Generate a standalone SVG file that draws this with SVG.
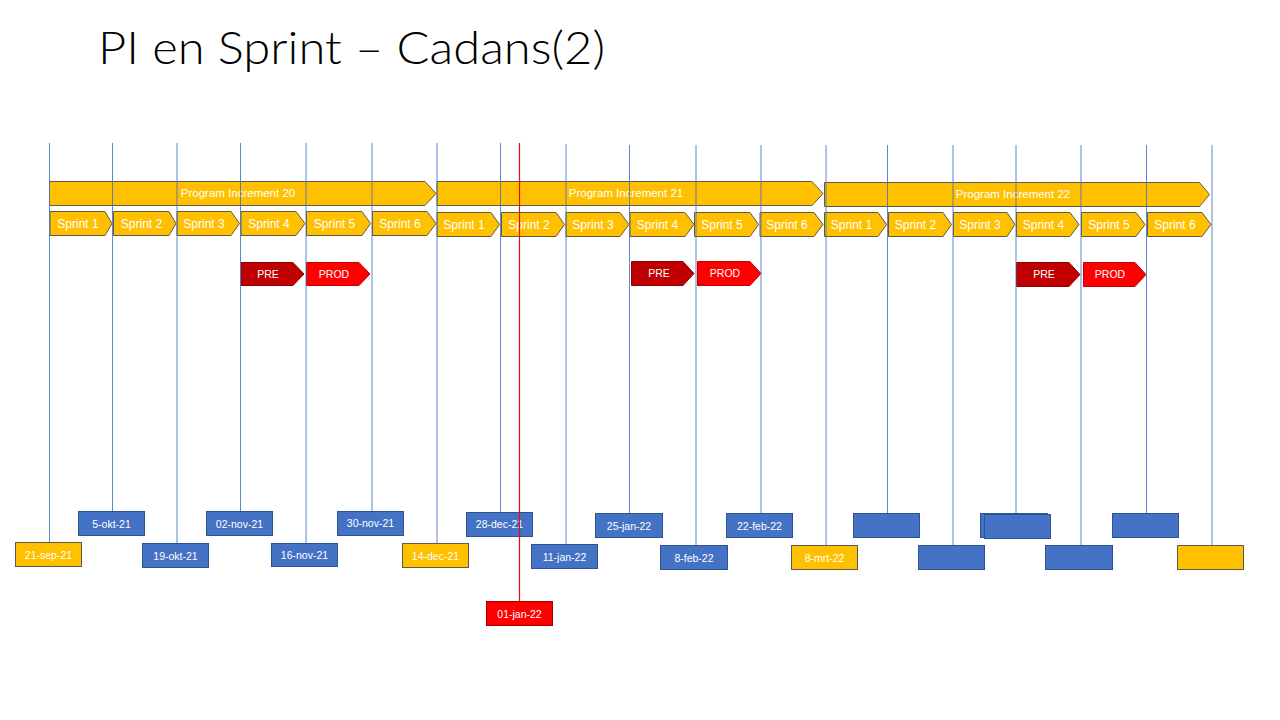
<svg xmlns="http://www.w3.org/2000/svg" width="1280" height="720" viewBox="0 0 1280 720">
<style>
  .title{font-family:"Lato","Liberation Sans",sans-serif;font-weight:300;font-size:46px;fill:#000}
  .lbl{font-family:"Liberation Sans",Arial,sans-serif;font-size:12px;fill:#fff;text-anchor:middle;dominant-baseline:central}
  .pil{font-family:"Liberation Sans",Arial,sans-serif;font-size:11.5px;fill:#fff;text-anchor:middle;dominant-baseline:central}
  .dl{font-family:"Liberation Sans",Arial,sans-serif;font-size:10.5px;fill:#fff;text-anchor:middle;dominant-baseline:central}
  .y{fill:#FFC000;stroke:#5f5a4a;stroke-width:1}
  .b{fill:#4472C4;stroke:#2F528F;stroke-width:1}
  .pre{fill:#C00000;stroke:#8B0000;stroke-width:1}
  .prod{fill:#FF0000;stroke:#C00000;stroke-width:1}
  .r{fill:#FF0000;stroke:#A00000;stroke-width:1}
  .vl{stroke:#4472C4;stroke-width:1;stroke-opacity:0.85;fill:none}
  .red{stroke:#E01010;stroke-width:1.2;fill:none}
</style>
<rect width="1280" height="720" fill="#fff"/>
<text class="title" x="98" y="64" textLength="507" lengthAdjust="spacingAndGlyphs">PI en Sprint – Cadans(2)</text>

<g id="pi20">
  <polygon class="y" points="49.5,181.5 425,181.5 436,193.5 425,205.5 49.5,205.5"/>
  <text class="pil" x="238" y="193">Program Increment  20</text>
</g>
<g id="pi21">
  <polygon class="y" points="437,181.5 812,181.5 823,193.5 812,205.5 437,205.5"/>
  <text class="pil" x="626" y="193">Program Increment  21</text>
</g>
<g id="pi22">
  <polygon class="y" points="824.5,182.5 1199.5,182.5 1209.5,194.5 1199.5,206.5 824.5,206.5"/>
  <text class="pil" x="1013" y="194">Program Increment  22</text>
</g>

<g id="pi20-s1"><polygon class="y" points="50,211.5 105,211.5 112,223.5 105,235.5 50,235.5"/><text class="lbl" x="78" y="223.5">Sprint 1</text></g>
<g id="pi20-s2"><polygon class="y" points="113.5,211.5 169,211.5 176,223.5 169,235.5 113.5,235.5"/><text class="lbl" x="141.5" y="223.5">Sprint 2</text></g>
<g id="pi20-s3"><polygon class="y" points="177,211.5 231,211.5 239.5,223.5 231,235.5 177,235.5"/><text class="lbl" x="204" y="223.5">Sprint 3</text></g>
<g id="pi20-s4"><polygon class="y" points="241,211.5 296,211.5 305,223.5 296,235.5 241,235.5"/><text class="lbl" x="269" y="223.5">Sprint 4</text></g>
<g id="pi20-s5"><polygon class="y" points="306.5,211.5 362,211.5 370.5,223.5 362,235.5 306.5,235.5"/><text class="lbl" x="334.5" y="223.5">Sprint 5</text></g>
<g id="pi20-s6"><polygon class="y" points="372.5,211.5 427,211.5 436,223.5 427,235.5 372.5,235.5"/><text class="lbl" x="400" y="223.5">Sprint 6</text></g>

<g id="pi21-s1"><polygon class="y" points="437,212.5 491,212.5 499.5,224.5 491,236.5 437,236.5"/><text class="lbl" x="464" y="224.5">Sprint 1</text></g>
<g id="pi21-s2"><polygon class="y" points="501.5,212.5 556,212.5 564.5,224.5 556,236.5 501.5,236.5"/><text class="lbl" x="529" y="224.5">Sprint 2</text></g>
<g id="pi21-s3"><polygon class="y" points="566,212.5 620,212.5 629,224.5 620,236.5 566,236.5"/><text class="lbl" x="593" y="224.5">Sprint 3</text></g>
<g id="pi21-s4"><polygon class="y" points="630,212.5 685,212.5 694,224.5 685,236.5 630,236.5"/><text class="lbl" x="657.5" y="224.5">Sprint 4</text></g>
<g id="pi21-s5"><polygon class="y" points="694.5,212.5 750,212.5 758.5,224.5 750,236.5 694.5,236.5"/><text class="lbl" x="722" y="224.5">Sprint 5</text></g>
<g id="pi21-s6"><polygon class="y" points="760,212.5 814,212.5 823,224.5 814,236.5 760,236.5"/><text class="lbl" x="787" y="224.5">Sprint 6</text></g>

<g id="pi22-s1"><polygon class="y" points="824.5,212.5 878,212.5 886.5,224.5 878,236.5 824.5,236.5"/><text class="lbl" x="851.5" y="224.5">Sprint 1</text></g>
<g id="pi22-s2"><polygon class="y" points="888.5,212.5 943,212.5 951.5,224.5 943,236.5 888.5,236.5"/><text class="lbl" x="915.5" y="224.5">Sprint 2</text></g>
<g id="pi22-s3"><polygon class="y" points="953.5,212.5 1007,212.5 1015,224.5 1007,236.5 953.5,236.5"/><text class="lbl" x="980" y="224.5">Sprint 3</text></g>
<g id="pi22-s4"><polygon class="y" points="1016.5,212.5 1070,212.5 1079,224.5 1070,236.5 1016.5,236.5"/><text class="lbl" x="1043.5" y="224.5">Sprint 4</text></g>
<g id="pi22-s5"><polygon class="y" points="1081.5,212.5 1136,212.5 1145,224.5 1136,236.5 1081.5,236.5"/><text class="lbl" x="1109" y="224.5">Sprint 5</text></g>
<g id="pi22-s6"><polygon class="y" points="1147.5,212.5 1202,212.5 1211,224.5 1202,236.5 1147.5,236.5"/><text class="lbl" x="1175" y="224.5">Sprint 6</text></g>

<g id="pi20-pre"><polygon class="pre" points="241,262.5 293,262.5 304,274 293,285.5 241,285.5"/><text class="dl" x="268" y="274">PRE</text></g>
<g id="pi20-prod"><polygon class="prod" points="306.5,262.5 359,262.5 370,274 359,285.5 306.5,285.5"/><text class="dl" x="334" y="274">PROD</text></g>
<g id="pi21-pre"><polygon class="pre" points="631.5,261.5 683,261.5 694,273.5 683,285.5 631.5,285.5"/><text class="dl" x="659" y="273">PRE</text></g>
<g id="pi21-prod"><polygon class="prod" points="697.5,261.5 750,261.5 761,273.5 750,285.5 697.5,285.5"/><text class="dl" x="725" y="273">PROD</text></g>
<g id="pi22-pre"><polygon class="pre" points="1016.5,262.5 1069,262.5 1080,274.5 1069,286.5 1016.5,286.5"/><text class="dl" x="1044" y="274">PRE</text></g>
<g id="pi22-prod"><polygon class="prod" points="1083.5,262.5 1135,262.5 1146,274.5 1135,286.5 1083.5,286.5"/><text class="dl" x="1110" y="274">PROD</text></g>

<g id="d-21sep"><rect class="y" x="15.5" y="542.5" width="66" height="24"/><text class="dl" x="48.5" y="554.5">21-sep-21</text></g>
<g id="d-5okt"><rect class="b" x="78.5" y="511.5" width="66" height="24"/><text class="dl" x="111.5" y="523.5">5-okt-21</text></g>
<g id="d-19okt"><rect class="b" x="142.5" y="543.5" width="66" height="24"/><text class="dl" x="175.5" y="555.5">19-okt-21</text></g>
<g id="d-02nov"><rect class="b" x="206.5" y="511.5" width="66" height="24"/><text class="dl" x="239.5" y="523.5">02-nov-21</text></g>
<g id="d-16nov"><rect class="b" x="271.5" y="543.5" width="66" height="23"/><text class="dl" x="304.5" y="554.5">16-nov-21</text></g>
<g id="d-30nov"><rect class="b" x="337.5" y="511.5" width="66" height="24"/><text class="dl" x="370.5" y="523">30-nov-21</text></g>
<g id="d-14dec"><rect class="y" x="402.5" y="543.5" width="66" height="24"/><text class="dl" x="435.5" y="555.5">14-dec-21</text></g>
<g id="d-28dec"><rect class="b" x="466.5" y="512.5" width="66" height="24"/><text class="dl" x="499.5" y="524">28-dec-21</text></g>
<g id="d-11jan"><rect class="b" x="531.5" y="544.5" width="66" height="24"/><text class="dl" x="564.5" y="556.5">11-jan-22</text></g>
<g id="d-25jan"><rect class="b" x="595.5" y="513.5" width="67" height="24"/><text class="dl" x="629" y="525.5">25-jan-22</text></g>
<g id="d-8feb"><rect class="b" x="660.5" y="545.5" width="67" height="24"/><text class="dl" x="694" y="557.5">8-feb-22</text></g>
<g id="d-22feb"><rect class="b" x="726.5" y="513.5" width="66" height="24"/><text class="dl" x="759.5" y="525.5">22-feb-22</text></g>
<g id="d-8mrt"><rect class="y" x="791.5" y="545.5" width="66" height="24"/><text class="dl" x="824.5" y="557.5">8-mrt-22</text></g>
<g id="d-b1"><rect class="b" x="853.5" y="513.5" width="66" height="24"/></g>
<g id="d-b2"><rect class="b" x="918.5" y="545.5" width="66" height="24"/></g>
<g id="d-b3"><rect class="b" x="980.5" y="513.5" width="67" height="24"/><rect class="b" x="984.5" y="514.5" width="66" height="24"/></g>
<g id="d-b4"><rect class="b" x="1045.5" y="545.5" width="67" height="24"/></g>
<g id="d-b5"><rect class="b" x="1112.5" y="513.5" width="66" height="24"/></g>
<g id="d-y1"><rect class="y" x="1177.5" y="545.5" width="66" height="24"/></g>
<g id="d-01jan"><rect class="r" x="486.5" y="601.5" width="66" height="24"/><text class="dl" x="519.5" y="613.5">01-jan-22</text></g>

<g id="connectors">
  <line class="vl" x1="49.5" y1="143" x2="49.5" y2="542"/>
  <line class="vl" x1="112.5" y1="143" x2="112.5" y2="511"/>
  <line class="vl" x1="177" y1="143" x2="177" y2="543"/>
  <line class="vl" x1="240.5" y1="143" x2="240.5" y2="511"/>
  <line class="vl" x1="306" y1="143" x2="306" y2="543"/>
  <line class="vl" x1="372" y1="143" x2="372" y2="511"/>
  <line class="vl" x1="437" y1="143" x2="437" y2="543"/>
  <line class="vl" x1="500.5" y1="143" x2="500.5" y2="512"/>
  <line class="vl" x1="566" y1="144" x2="566" y2="544"/>
  <line class="vl" x1="629.5" y1="145" x2="629.5" y2="513"/>
  <line class="vl" x1="696" y1="145" x2="696" y2="545"/>
  <line class="vl" x1="761" y1="145" x2="761" y2="513"/>
  <line class="vl" x1="826" y1="145" x2="826" y2="545"/>
  <line class="vl" x1="887.5" y1="145" x2="887.5" y2="513"/>
  <line class="vl" x1="953" y1="145" x2="953" y2="545"/>
  <line class="vl" x1="1016" y1="145" x2="1016" y2="513"/>
  <line class="vl" x1="1081" y1="145" x2="1081" y2="545"/>
  <line class="vl" x1="1146.5" y1="145" x2="1146.5" y2="513"/>
  <line class="vl" x1="1212" y1="145" x2="1212" y2="545"/>
  <line class="red" x1="519.5" y1="143" x2="519.5" y2="601"/>
</g>
</svg>
